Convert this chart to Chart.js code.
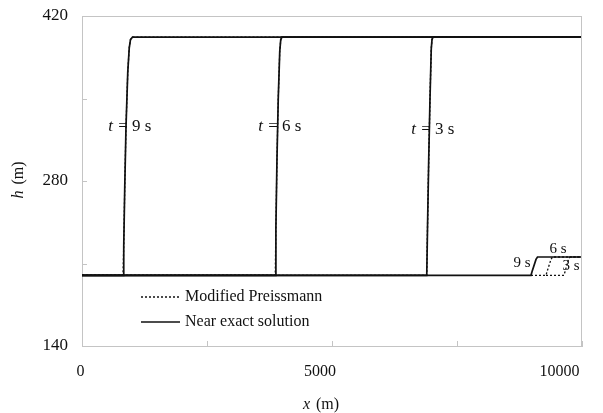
<!DOCTYPE html>
<html>
<head>
<meta charset="utf-8">
<script src="https://cdn.jsdelivr.net/npm/chart.js@4/dist/chart.umd.min.js"></script>
<style>
  html, body { margin: 0; padding: 0; background: #fff; }
  #wrap { width: 603px; height: 413px; }
</style>
</head>
<body>
<div id="wrap"><canvas id="c" width="603" height="413"></canvas></div>
<script>
// Water depth profiles h(x) at t = 3, 6 and 9 s
const xExact9 = [0, 820, 835, 855, 880, 915, 945, 970, 1010, 10000];
const hExact9 = [200, 200, 225, 275, 326, 372, 393, 400, 402, 402];
const xExact6 = [0, 3865, 3878, 3900, 3925, 3955, 3975, 4000, 10000];
const hExact6 = [200, 200, 240, 300, 350, 390, 400, 402, 402];
const xExact3 = [0, 6895, 6910, 6935, 6960, 6985, 7000, 7020, 10000];
const hExact3 = [200, 200, 240, 300, 350, 392, 400, 402, 402];

// Small downstream step (near x = 9000–9750 m)
const xStep9 = [0, 8980, 9000, 9080, 9110, 10000];
const hStep9 = [200, 200, 203, 213.5, 215.5, 215.5];
const xStep6 = [8980, 9280, 9300, 9380, 9410, 10000];
const hStep6 = [200, 200, 203, 213.5, 215.5, 215.5];
const xStep3 = [9280, 9640, 9660, 9730, 9760, 10000];
const hStep3 = [200, 200, 203, 213.5, 215.5, 215.5];

// Axis ticks
const xTicks = [0, 2500, 5000, 7500, 10000];
const xTickLabels = ['0', '', '5000', '', '10000'];
const hTicks = [140, 210, 280, 350, 420];
const hTickLabels = ['140', '', '280', '', '420'];

// Curve annotations: time, x of the "=" sign, h of the text
const curveLabels = [
  { t: '9', x: 820, h: 326 },
  { t: '6', x: 3820, h: 326 },
  { t: '3', x: 6880, h: 324 }
];
const stepLabels = [
  { text: '9 s', x: 8800, h: 210 },
  { text: '6 s', x: 9520, h: 222.5 },
  { text: '3 s', x: 9780, h: 208 }
];

const pts = (xs, hs) => xs.map((x, i) => ({ x: x, y: hs[i] }));
const SERIF = '"Liberation Serif", "DejaVu Serif", serif';
const INK = '#111';
const AXIS = '#c4c4c4';
// horizontal text under the plot is set slightly narrower than the axis
const TEXT_SPREAD = 0.958;

const solid = (data) => ({
  data, borderColor: INK, borderWidth: 1.7, pointRadius: 0, fill: false,
  tension: 0, showLine: true
});
const dotted = (data) => ({
  data, borderColor: INK, borderWidth: 1.3, borderDash: [2, 2], pointRadius: 0,
  fill: false, tension: 0, showLine: true
});

const datasets = [
  Object.assign(solid(pts(xExact9, hExact9)), { label: 'Near exact solution' }),
  Object.assign(solid(pts(xExact6, hExact6)), { label: 'Near exact solution' }),
  Object.assign(solid(pts(xExact3, hExact3)), { label: 'Near exact solution' }),
  Object.assign(solid(pts(xStep9, hStep9)), { label: 'Near exact solution' }),
  Object.assign(dotted(pts(xExact9, hExact9)), { label: 'Modified Preissmann' }),
  Object.assign(dotted(pts(xExact6, hExact6)), { label: 'Modified Preissmann' }),
  Object.assign(dotted(pts(xExact3, hExact3)), { label: 'Modified Preissmann' }),
  Object.assign(dotted(pts(xStep6, hStep6)), { label: 'Modified Preissmann' }),
  Object.assign(dotted(pts(xStep3, hStep3)), { label: 'Modified Preissmann' })
];

const decor = {
  id: 'decor',
  afterDraw(chart) {
    const { ctx, chartArea: a, scales } = chart;
    const xs = scales.x, ys = scales.y;
    ctx.save();
    // frame (top and right sides)
    ctx.strokeStyle = AXIS;
    ctx.lineWidth = 1;
    ctx.beginPath();
    ctx.moveTo(a.left, a.top + 0.5); ctx.lineTo(a.right, a.top + 0.5);
    ctx.moveTo(a.right - 0.5, a.top); ctx.lineTo(a.right - 0.5, a.bottom);
    ctx.stroke();
    // inward tick marks
    ctx.beginPath();
    xTicks.forEach(v => {
      const px = Math.round(xs.getPixelForValue(v)) + 0.5;
      ctx.moveTo(px, a.bottom); ctx.lineTo(px, a.bottom - 5);
    });
    hTicks.forEach(v => {
      const py = Math.round(ys.getPixelForValue(v)) + 0.5;
      ctx.moveTo(a.left, py); ctx.lineTo(a.left + 5, py);
    });
    ctx.stroke();

    ctx.fillStyle = INK;
    ctx.textBaseline = 'middle';
    // x tick labels
    ctx.font = '16px ' + SERIF;
    ctx.textAlign = 'center';
    xTicks.forEach((v, i) => {
      if (!xTickLabels[i]) return;
      const px = xs.getPixelForValue(v);
      ctx.fillText(xTickLabels[i], a.left - 1.5 + (px - a.left) * TEXT_SPREAD, 372);
    });

    // curve labels "t = N s"
    curveLabels.forEach(l => {
      const cx = xs.getPixelForValue(l.x);
      const cy = ys.getPixelForValue(l.h);
      ctx.font = 'italic 17px ' + SERIF;
      ctx.textAlign = 'right';
      ctx.fillText('t', cx - 10, cy);
      ctx.font = '17px ' + SERIF;
      ctx.textAlign = 'center';
      ctx.fillText('=', cx, cy);
      ctx.textAlign = 'left';
      ctx.fillText(l.t + ' s', cx + 9, cy);
    });
    ctx.font = '15px ' + SERIF;
    ctx.textAlign = 'center';
    stepLabels.forEach(l => {
      ctx.fillText(l.text, xs.getPixelForValue(l.x), ys.getPixelForValue(l.h));
    });

    // axis titles
    ctx.textAlign = 'left';
    ctx.font = 'italic 16px ' + SERIF;
    const w1 = ctx.measureText('x').width;
    ctx.font = '16px ' + SERIF;
    const w2 = ctx.measureText(' (m)').width;
    const mid = a.left - 1.5 + (a.right - a.left) / 2 * TEXT_SPREAD;
    const sx = mid - (w1 + w2) / 2;
    ctx.font = 'italic 16px ' + SERIF;
    ctx.fillText('x', sx, 405);
    ctx.font = '16px ' + SERIF;
    ctx.fillText(' (m)', sx + w1 + 2, 405);

    ctx.save();
    ctx.translate(19, (a.top + a.bottom) / 2);
    ctx.rotate(-Math.PI / 2);
    ctx.font = 'italic 16px ' + SERIF;
    const h1 = ctx.measureText('h').width;
    ctx.font = '16px ' + SERIF;
    const h2 = ctx.measureText(' (m)').width;
    const sy = -(h1 + h2) / 2;
    ctx.font = 'italic 16px ' + SERIF;
    ctx.fillText('h', sy, 0);
    ctx.font = '16px ' + SERIF;
    ctx.fillText(' (m)', sy + h1 + 2, 0);
    ctx.restore();

    // legend
    const lx0 = 141, lx1 = 180, ly1 = 297, ly2 = 322;
    ctx.strokeStyle = INK;
    ctx.lineWidth = 1.3;
    ctx.setLineDash([2, 2]);
    ctx.beginPath(); ctx.moveTo(lx0, ly1); ctx.lineTo(lx1, ly1); ctx.stroke();
    ctx.setLineDash([]);
    ctx.lineWidth = 1.7;
    ctx.beginPath(); ctx.moveTo(lx0, ly2); ctx.lineTo(lx1, ly2); ctx.stroke();
    ctx.font = '16px ' + SERIF;
    ctx.textAlign = 'left';
    ctx.fillText('Modified Preissmann', 185, ly1);
    ctx.fillText('Near exact solution', 185, ly2);
    ctx.restore();
  }
};

new Chart(document.getElementById('c'), {
  type: 'scatter',
  data: { datasets },
  options: {
    responsive: false,
    animation: false,
    layout: { padding: { top: 16, right: 21, left: 0, bottom: 0 } },
    plugins: { legend: { display: false }, tooltip: { enabled: false } },
    scales: {
      x: {
        type: 'linear', min: 0, max: 10000,
        afterBuildTicks: s => { s.ticks = xTicks.map(v => ({ value: v })); },
        afterFit: s => { s.height = 67; s.paddingLeft = 0; s.paddingRight = 0; },
        grid: { display: false },
        border: { display: true, color: AXIS, width: 1 },
        ticks: { display: false }
      },
      y: {
        type: 'linear', min: 140, max: 420,
        afterBuildTicks: s => { s.ticks = hTicks.map(v => ({ value: v })); },
        afterFit: s => { s.width = 82; s.paddingTop = 0; s.paddingBottom = 0; },
        grid: { display: false },
        border: { display: true, color: AXIS, width: 1 },
        ticks: {
          padding: 6, color: INK, autoSkip: false,
          font: { family: SERIF, size: 17 },
          callback: (v) => hTickLabels[hTicks.indexOf(v)]
        }
      }
    }
  },
  plugins: [decor]
});
</script>
</body>
</html>
